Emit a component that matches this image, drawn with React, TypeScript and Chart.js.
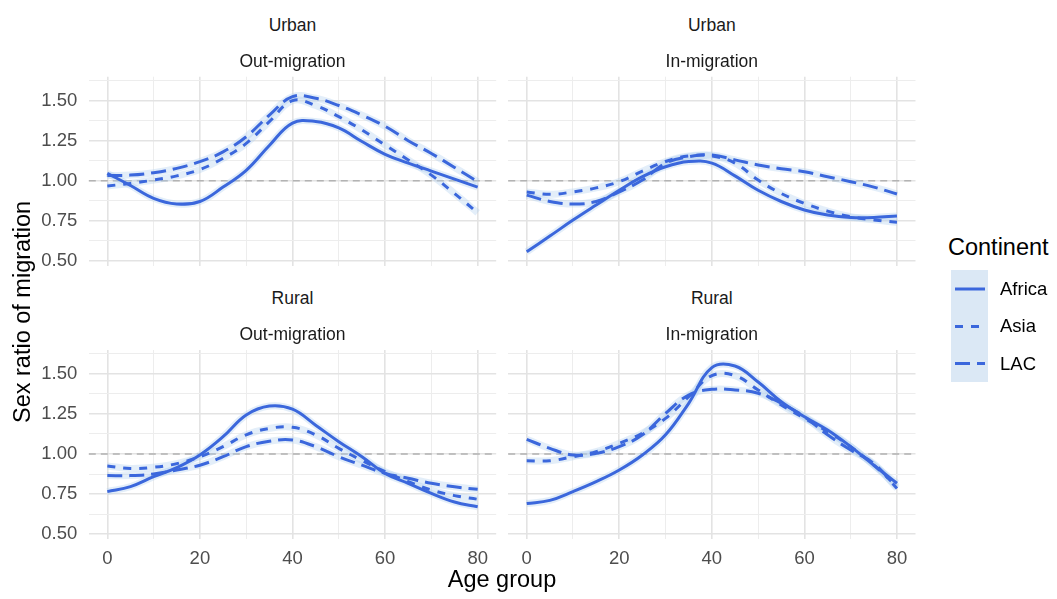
import React, { useEffect, useRef } from "react";
import { Chart, registerables } from "chart.js";

Chart.register(...registerables);

// Age groups (x values) and axis ticks
const AGES = [0, 5, 10, 15, 20, 25, 30, 35, 40, 45, 50, 55, 60, 65, 70, 75, 80];
const X_GRID = [0, 10, 20, 30, 40, 50, 60, 70, 80];
const X_LABELED = [0, 20, 40, 60, 80];
const Y_GRID = [0.5, 0.625, 0.75, 0.875, 1, 1.125, 1.25, 1.375, 1.5, 1.625];
const Y_LABELED = [0.5, 0.75, 1, 1.25, 1.5];
const X_MIN = -4;
const X_MAX = 84;
const Y_MIN = 0.47;
const Y_MAX = 1.65;
const REF_RATIO = 1;

const CONTINENTS = ["Africa", "Asia", "LAC"];

// Smoothed sex ratio of migration by age group
const urbanOutAfrica = [1.046, 0.97, 0.89, 0.855, 0.87, 0.96, 1.065, 1.22, 1.36, 1.37, 1.33, 1.245, 1.165, 1.11, 1.06, 1.01, 0.96];
const urbanOutAsia = [0.967, 0.983, 1.004, 1.03, 1.07, 1.14, 1.233, 1.369, 1.5, 1.47, 1.4, 1.317, 1.223, 1.13, 1.035, 0.92, 0.8];
const urbanOutLAC = [1.033, 1.035, 1.05, 1.077, 1.119, 1.18, 1.275, 1.41, 1.525, 1.515, 1.47, 1.41, 1.34, 1.25, 1.17, 1.083, 0.994];

const urbanInAfrica = [0.556, 0.654, 0.754, 0.848, 0.94, 1.025, 1.0875, 1.12, 1.11, 1.03, 0.94, 0.87, 0.817, 0.785, 0.77, 0.77, 0.78];
const urbanInAsia = [0.93, 0.915, 0.93, 0.955, 0.994, 1.06, 1.12, 1.155, 1.155, 1.11, 1.004, 0.92, 0.858, 0.81, 0.775, 0.755, 0.74];
const urbanInLAC = [0.91, 0.87, 0.854, 0.87, 0.93, 1.004, 1.11, 1.15, 1.16, 1.13, 1.098, 1.075, 1.056, 1.025, 0.994, 0.96, 0.917];

const ruralOutAfrica = [0.765, 0.796, 0.858, 0.915, 0.994, 1.108, 1.244, 1.3, 1.28, 1.18, 1.077, 0.983, 0.879, 0.817, 0.754, 0.7, 0.67];
const ruralOutAsia = [0.925, 0.91, 0.917, 0.94, 0.983, 1.046, 1.12, 1.16, 1.167, 1.12, 1.035, 0.96, 0.89, 0.827, 0.775, 0.74, 0.717];
const ruralOutLAC = [0.865, 0.865, 0.875, 0.9, 0.93, 0.983, 1.046, 1.08, 1.0875, 1.046, 0.983, 0.93, 0.879, 0.848, 0.817, 0.795, 0.779];

const ruralInAfrica = [0.69, 0.71, 0.765, 0.827, 0.9, 0.994, 1.12, 1.317, 1.54, 1.55, 1.45, 1.327, 1.233, 1.15, 1.046, 0.93, 0.817];
const ruralInAsia = [0.958, 0.958, 0.983, 1.015, 1.067, 1.13, 1.223, 1.358, 1.49, 1.49, 1.4, 1.306, 1.223, 1.14, 1.046, 0.93, 0.796];
const ruralInLAC = [1.092, 1.035, 0.994, 1.004, 1.046, 1.12, 1.254, 1.369, 1.404, 1.4, 1.38, 1.317, 1.233, 1.12, 1.025, 0.94, 0.785];

const LINE_COLOR = "#3b67dc";
const BAND_COLOR = "rgba(176, 206, 238, 0.35)";
const DASHES: number[][] = [[], [8, 8], [15, 7]];
const FONT = "'Liberation Sans', Arial, sans-serif";

const isOn = (v: number, list: number[]) => list.some((t) => Math.abs(t - v) < 1e-6);

const refLinePlugin = {
  id: "refLine",
  beforeDatasetsDraw(chart: any) {
    const { ctx, chartArea, scales } = chart;
    const py = scales.y.getPixelForValue(REF_RATIO);
    ctx.save();
    ctx.setLineDash([7, 5]);
    ctx.strokeStyle = "#b3b3b3";
    ctx.lineWidth = 1.5;
    ctx.beginPath();
    ctx.moveTo(chartArea.left, py);
    ctx.lineTo(chartArea.right, py);
    ctx.stroke();
    ctx.restore();
  },
};

type PanelProps = {
  series: number[][];
  showX: boolean;
  showY: boolean;
  left: number;
  top: number;
  width: number;
  height: number;
  padding: { left: number; right: number; top: number; bottom: number };
  yWidth: number;
  xHeight: number;
};

function Panel(p: PanelProps) {
  const ref = useRef<HTMLCanvasElement | null>(null);

  useEffect(() => {
    if (!ref.current) return;
    const lines = p.series.map((vals, i) => ({
      label: CONTINENTS[i],
      data: AGES.map((a, j) => ({ x: a, y: vals[j] })),
      borderColor: LINE_COLOR,
      borderWidth: 3,
      borderDash: DASHES[i],
      borderCapStyle: "butt" as const,
      pointRadius: 0,
      fill: false,
      tension: 0.4,
      order: 0,
    }));
    const bands = p.series.map((vals, i) => ({
      label: CONTINENTS[i] + " band",
      data: AGES.map((a, j) => ({ x: a, y: vals[j] })),
      borderColor: BAND_COLOR,
      borderWidth: 7,
      pointRadius: 0,
      fill: false,
      tension: 0.4,
      order: 1,
    }));

    const chart = new Chart(ref.current, {
      type: "line",
      data: { datasets: [...lines, ...bands] as any },
      plugins: [refLinePlugin],
      options: {
        animation: false,
        responsive: false,
        maintainAspectRatio: false,
        layout: { padding: p.padding },
        plugins: { legend: { display: false }, tooltip: { enabled: false }, title: { display: false } },
        scales: {
          x: {
            type: "linear",
            min: X_MIN,
            max: X_MAX,
            afterBuildTicks: (ax: any) => {
              ax.ticks = X_GRID.map((v) => ({ value: v }));
            },
            afterFit: (ax: any) => {
              ax.height = p.xHeight;
              ax.paddingLeft = 0;
              ax.paddingRight = 0;
            },
            ticks: {
              display: p.showX,
              autoSkip: false,
              maxRotation: 0,
              padding: 9,
              color: "#4d4d4d",
              font: { family: FONT, size: 18.5 },
              callback: (v: any) => (isOn(Number(v), X_LABELED) ? String(v) : ""),
            },
            grid: {
              drawTicks: false,
              color: (c: any) => (isOn(c.tick?.value, X_LABELED) ? "#e3e3e3" : "#ededed"),
              lineWidth: (c: any) => (isOn(c.tick?.value, X_LABELED) ? 1.6 : 1),
            },
            border: { display: false },
          },
          y: {
            type: "linear",
            min: Y_MIN,
            max: Y_MAX,
            afterBuildTicks: (ax: any) => {
              ax.ticks = Y_GRID.map((v) => ({ value: v }));
            },
            afterFit: (ax: any) => {
              ax.width = p.yWidth;
              ax.paddingTop = 0;
              ax.paddingBottom = 0;
            },
            ticks: {
              display: p.showY,
              autoSkip: false,
              padding: 11.5,
              color: "#4d4d4d",
              font: { family: FONT, size: 18.5 },
              callback: (v: any) => (isOn(Number(v), Y_LABELED) ? Number(v).toFixed(2) : ""),
            },
            grid: {
              drawTicks: false,
              color: (c: any) => (isOn(c.tick?.value, Y_LABELED) ? "#e3e3e3" : "#ededed"),
              lineWidth: (c: any) => (isOn(c.tick?.value, Y_LABELED) ? 1.6 : 1),
            },
            border: { display: false },
          },
        },
      },
    });
    return () => chart.destroy();
  }, []);

  return (
    <canvas
      ref={ref}
      width={p.width}
      height={p.height}
      style={{ position: "absolute", left: p.left, top: p.top, width: p.width, height: p.height }}
    />
  );
}

const textBase: React.CSSProperties = {
  position: "absolute",
  fontFamily: FONT,
  whiteSpace: "nowrap",
  lineHeight: "20px",
};

function Centered({ x, y, text, size, color }: { x: number; y: number; text: string; size: number; color: string }) {
  return (
    <div style={{ ...textBase, left: x - 150, top: y - 10, width: 300, textAlign: "center", fontSize: size, color }}>
      {text}
    </div>
  );
}

function LegendKey({ y, dash }: { y: number; dash: number[] }) {
  return (
    <line
      x1={955}
      x2={985}
      y1={y}
      y2={y}
      stroke={LINE_COLOR}
      strokeWidth={3}
      strokeDasharray={dash.length ? dash.join(" ") : undefined}
    />
  );
}

export default function App() {
  const stripSize = 17.5;
  const stripColor = "#1a1a1a";
  return (
    <div style={{ position: "fixed", left: 0, top: 0, width: 1057, height: 599, background: "#fff", overflow: "hidden" }}>
      <Panel
        series={[urbanOutAfrica, urbanOutAsia, urbanOutLAC]}
        showX={false}
        showY={true}
        left={0}
        top={70}
        width={500}
        height={200}
        padding={{ left: 0, right: 3.8, top: 6.7, bottom: 4.5 }}
        yWidth={88.8}
        xHeight={0}
      />
      <Panel
        series={[urbanInAfrica, urbanInAsia, urbanInLAC]}
        showX={false}
        showY={false}
        left={500}
        top={70}
        width={420}
        height={200}
        padding={{ left: 8.2, right: 4.5, top: 6.7, bottom: 4.5 }}
        yWidth={0}
        xHeight={0}
      />
      <Panel
        series={[ruralOutAfrica, ruralOutAsia, ruralOutLAC]}
        showX={true}
        showY={true}
        left={0}
        top={340}
        width={500}
        height={240}
        padding={{ left: 0, right: 3.8, top: 10, bottom: 0 }}
        yWidth={88.8}
        xHeight={41.2}
      />
      <Panel
        series={[ruralInAfrica, ruralInAsia, ruralInLAC]}
        showX={true}
        showY={false}
        left={500}
        top={340}
        width={420}
        height={240}
        padding={{ left: 8.2, right: 4.5, top: 10, bottom: 0 }}
        yWidth={0}
        xHeight={41.2}
      />

      {/* facet strips */}
      <Centered x={292.5} y={25} text="Urban" size={stripSize} color={stripColor} />
      <Centered x={292.5} y={61} text="Out-migration" size={stripSize} color={stripColor} />
      <Centered x={711.8} y={25} text="Urban" size={stripSize} color={stripColor} />
      <Centered x={711.8} y={61} text="In-migration" size={stripSize} color={stripColor} />
      <Centered x={292.5} y={298} text="Rural" size={stripSize} color={stripColor} />
      <Centered x={292.5} y={334} text="Out-migration" size={stripSize} color={stripColor} />
      <Centered x={711.8} y={298} text="Rural" size={stripSize} color={stripColor} />
      <Centered x={711.8} y={334} text="In-migration" size={stripSize} color={stripColor} />

      {/* axis titles */}
      <Centered x={502} y={579} text="Age group" size={23.5} color="#000" />
      <div
        style={{
          ...textBase,
          left: 22,
          top: 312,
          fontSize: 23.5,
          color: "#000",
          transform: "translate(-50%, -50%) rotate(-90deg)",
        }}
      >
        Sex ratio of migration
      </div>

      {/* legend */}
      <div style={{ ...textBase, left: 948, top: 237, fontSize: 23.5, color: "#000" }}>Continent</div>
      <svg width={1057} height={599} style={{ position: "absolute", left: 0, top: 0, pointerEvents: "none" }}>
        <rect x={951} y={270} width={37} height={112} fill="#dbe8f5" />
        <LegendKey y={289} dash={DASHES[0]} />
        <LegendKey y={326.5} dash={DASHES[1]} />
        <LegendKey y={363.5} dash={DASHES[2]} />
      </svg>
      {CONTINENTS.map((c, i) => (
        <div key={c} style={{ ...textBase, left: 1000, top: 279 + i * 37.3, fontSize: 18.5, color: "#000" }}>
          {c}
        </div>
      ))}
    </div>
  );
}
